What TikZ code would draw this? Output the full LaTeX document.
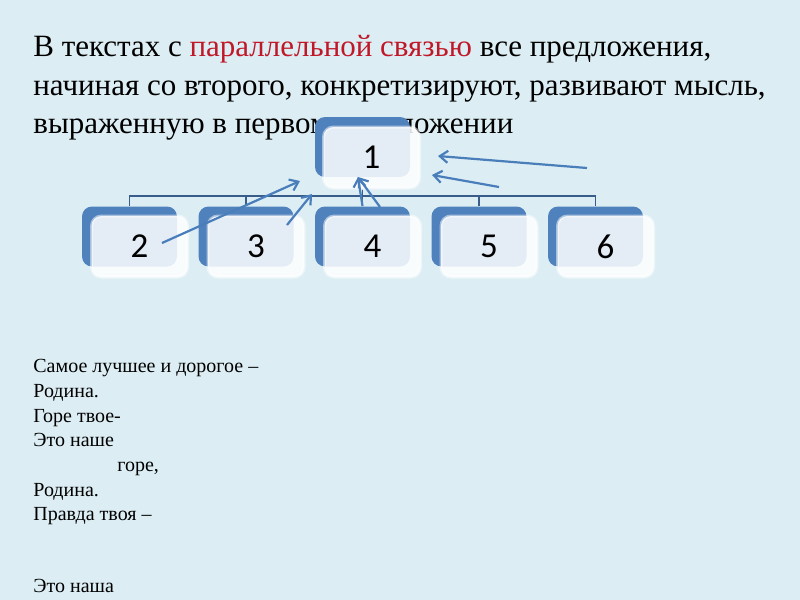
\documentclass[tikz,border=0pt]{standalone}
\usepackage{fontspec}
\setmainfont{Liberation Serif}
\newfontfamily\numfont{Carlito}
\usepackage{xcolor}
\usetikzlibrary{arrows.meta}
\definecolor{slidebg}{RGB}{220,238,244}
\definecolor{boxblue}{RGB}{79,129,189}
\definecolor{linkblue}{RGB}{56,93,138}
\definecolor{arrowblue}{RGB}{74,126,187}
\definecolor{keyred}{RGB}{192,24,40}

\begin{document}
\begin{tikzpicture}[x=0.5pt, y=-0.5pt,
    title/.style={anchor=base west, inner sep=0pt, font=\fontsize{15.5}{18}\selectfont},
    verse/.style={anchor=north west, inner sep=0pt, align=left, font=\fontsize{10}{12.35}\selectfont},
    back/.style={fill=boxblue, rounded corners=5pt, minimum width=47.5pt, minimum height=30pt, inner sep=0pt},
    front/.style={fill=white, fill opacity=0.85, text opacity=1, draw=white, draw opacity=0.5, line width=1.5pt,
        rounded corners=5pt, minimum width=48pt, minimum height=30.5pt, inner sep=0pt,
        font=\numfont\fontsize{17.5}{17.5}\selectfont},
    link/.style={draw=linkblue, line width=0.7pt},
    pointer/.style={draw=arrowblue, line width=1.1pt, -{Straight Barb[length=4pt, width=6pt]}}]
    % slide background
    \fill[slidebg] (0,0) rectangle (800,600);
    \useasboundingbox (0,0) rectangle (800,600);

    % heading
    \node[title] (line1) at (33,56) {В текстах с \textcolor{keyred}{параллельной связью} все предложения,};
    \node[title] (line2) at (33,95) {начиная со второго, конкретизируют, развивают мысль,};
    \node[title] (line3) at (33,133) {выраженную в первом предложении};

    % scheme
    \node[back] (back1) at (362.5,147) {};
    \node[front] (front1) at (371.5,157.5) {1};
    \foreach \i [count=\k from 0] in {2,...,6} {
        \node[back] (back\i) at (129.5+116.5*\k,236.5) {};
        \node[front] (front\i) at (139.5+116.5*\k,246.5) {\i};
    }
    \coordinate (bus) at (0,196);
    \foreach \i in {2,...,6}
        \draw[link] (back1.south |- front1.south) -- (back1.south |- bus) -| (back\i.north);

    % arrows towards the first sentence
    \coordinate (from2) at (162,243);
    \coordinate (to2) at (300,181);
    \coordinate (from3) at (287,225);
    \coordinate (to3) at (312,194);
    \coordinate (from4) at (380,207);
    \coordinate (to4) at (358,177);
    \coordinate (fromR) at (587,168);
    \coordinate (toR) at (438,156);
    \coordinate (fromS) at (499,187);
    \coordinate (toS) at (432,175);
    \draw[pointer] (from2) -- (to2);
    \draw[pointer] (from3) -- (to3);
    \draw[pointer] (from4) -- (to4);
    \draw[pointer] (back4.north) -- (to4);
    \draw[pointer] (fromR) -- (toR);
    \draw[pointer] (fromS) -- (toS);

    % verse
    \node[verse] (verse) at (33,359) {Самое лучшее и дорогое –\\
        Родина.\\
        Горе твое-\\
        Это наше\\
        \hspace*{42pt}горе,\\
        Родина.\\
        Правда твоя –\\[23.65pt]
        Это наша};
\end{tikzpicture}
\end{document}
